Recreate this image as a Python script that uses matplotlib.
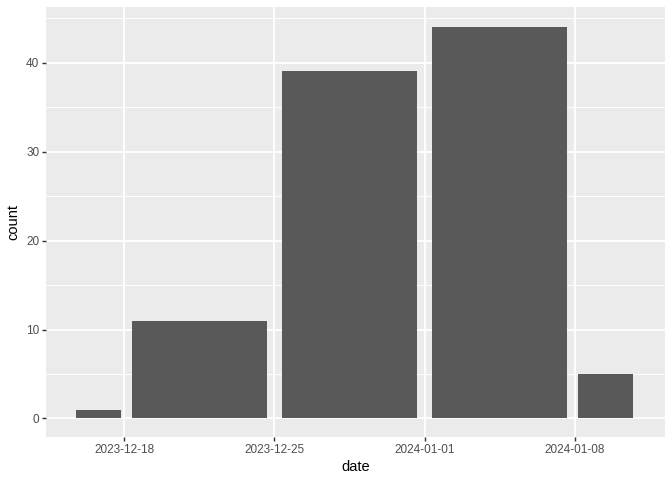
import matplotlib
matplotlib.use("Agg")
import matplotlib.pyplot as plt
import matplotlib.dates as mdates
import pandas as pd

# bar centres (dates), widths in days and counts
bar_dates = ["2023-12-16 19:00", "2023-12-21 12:00", "2023-12-28 12:00",
             "2024-01-04 12:00", "2024-01-09 11:00"]
bar_widths = [2.14, 6.3, 6.3, 6.3, 2.56]
counts = [1, 11, 39, 44, 5]

tick_dates = ["2023-12-18", "2023-12-25", "2024-01-01", "2024-01-08"]
y_ticks = [0, 10, 20, 30, 40]
y_minor = [5, 15, 25, 35, 45]

plt.rcParams['font.family'] = ['Liberation Sans', 'DejaVu Sans']

fig = plt.figure(figsize=(7, 5), dpi=96)
ax = fig.add_axes([46 / 672, 43 / 480, (665 - 46) / 672, (437 - 7) / 480])
ax.set_facecolor("#EBEBEB")

x = mdates.date2num(pd.to_datetime(bar_dates))
ax.bar(x, counts, width=bar_widths, color="#595959", zorder=3)

ticks = mdates.date2num(pd.to_datetime(tick_dates))
ax.set_xticks(ticks)
ax.set_xticklabels(tick_dates)
ax.set_yticks(y_ticks)
ax.set_yticks(y_minor, minor=True)

t0 = ticks[0]
ax.set_xlim(t0 - 3.66, t0 + 25.22)
ax.set_ylim(-2.08, 46.24)

ax.grid(which="major", color="white", linewidth=1.42, zorder=0)
ax.grid(which="minor", axis="y", color="white", linewidth=0.71, zorder=0)
ax.set_axisbelow(True)

for s in ax.spines.values():
    s.set_visible(False)

ax.tick_params(which="major", length=2.75, width=1.07, color="#333333",
               labelsize=8.8, labelcolor="#4D4D4D", pad=2.2)
ax.tick_params(which="minor", length=0)

ax.set_xlabel("date", fontsize=11, color="black", labelpad=3)
ax.set_ylabel("count", fontsize=11, color="black", labelpad=4)

fig.savefig("out.png", dpi=96)
